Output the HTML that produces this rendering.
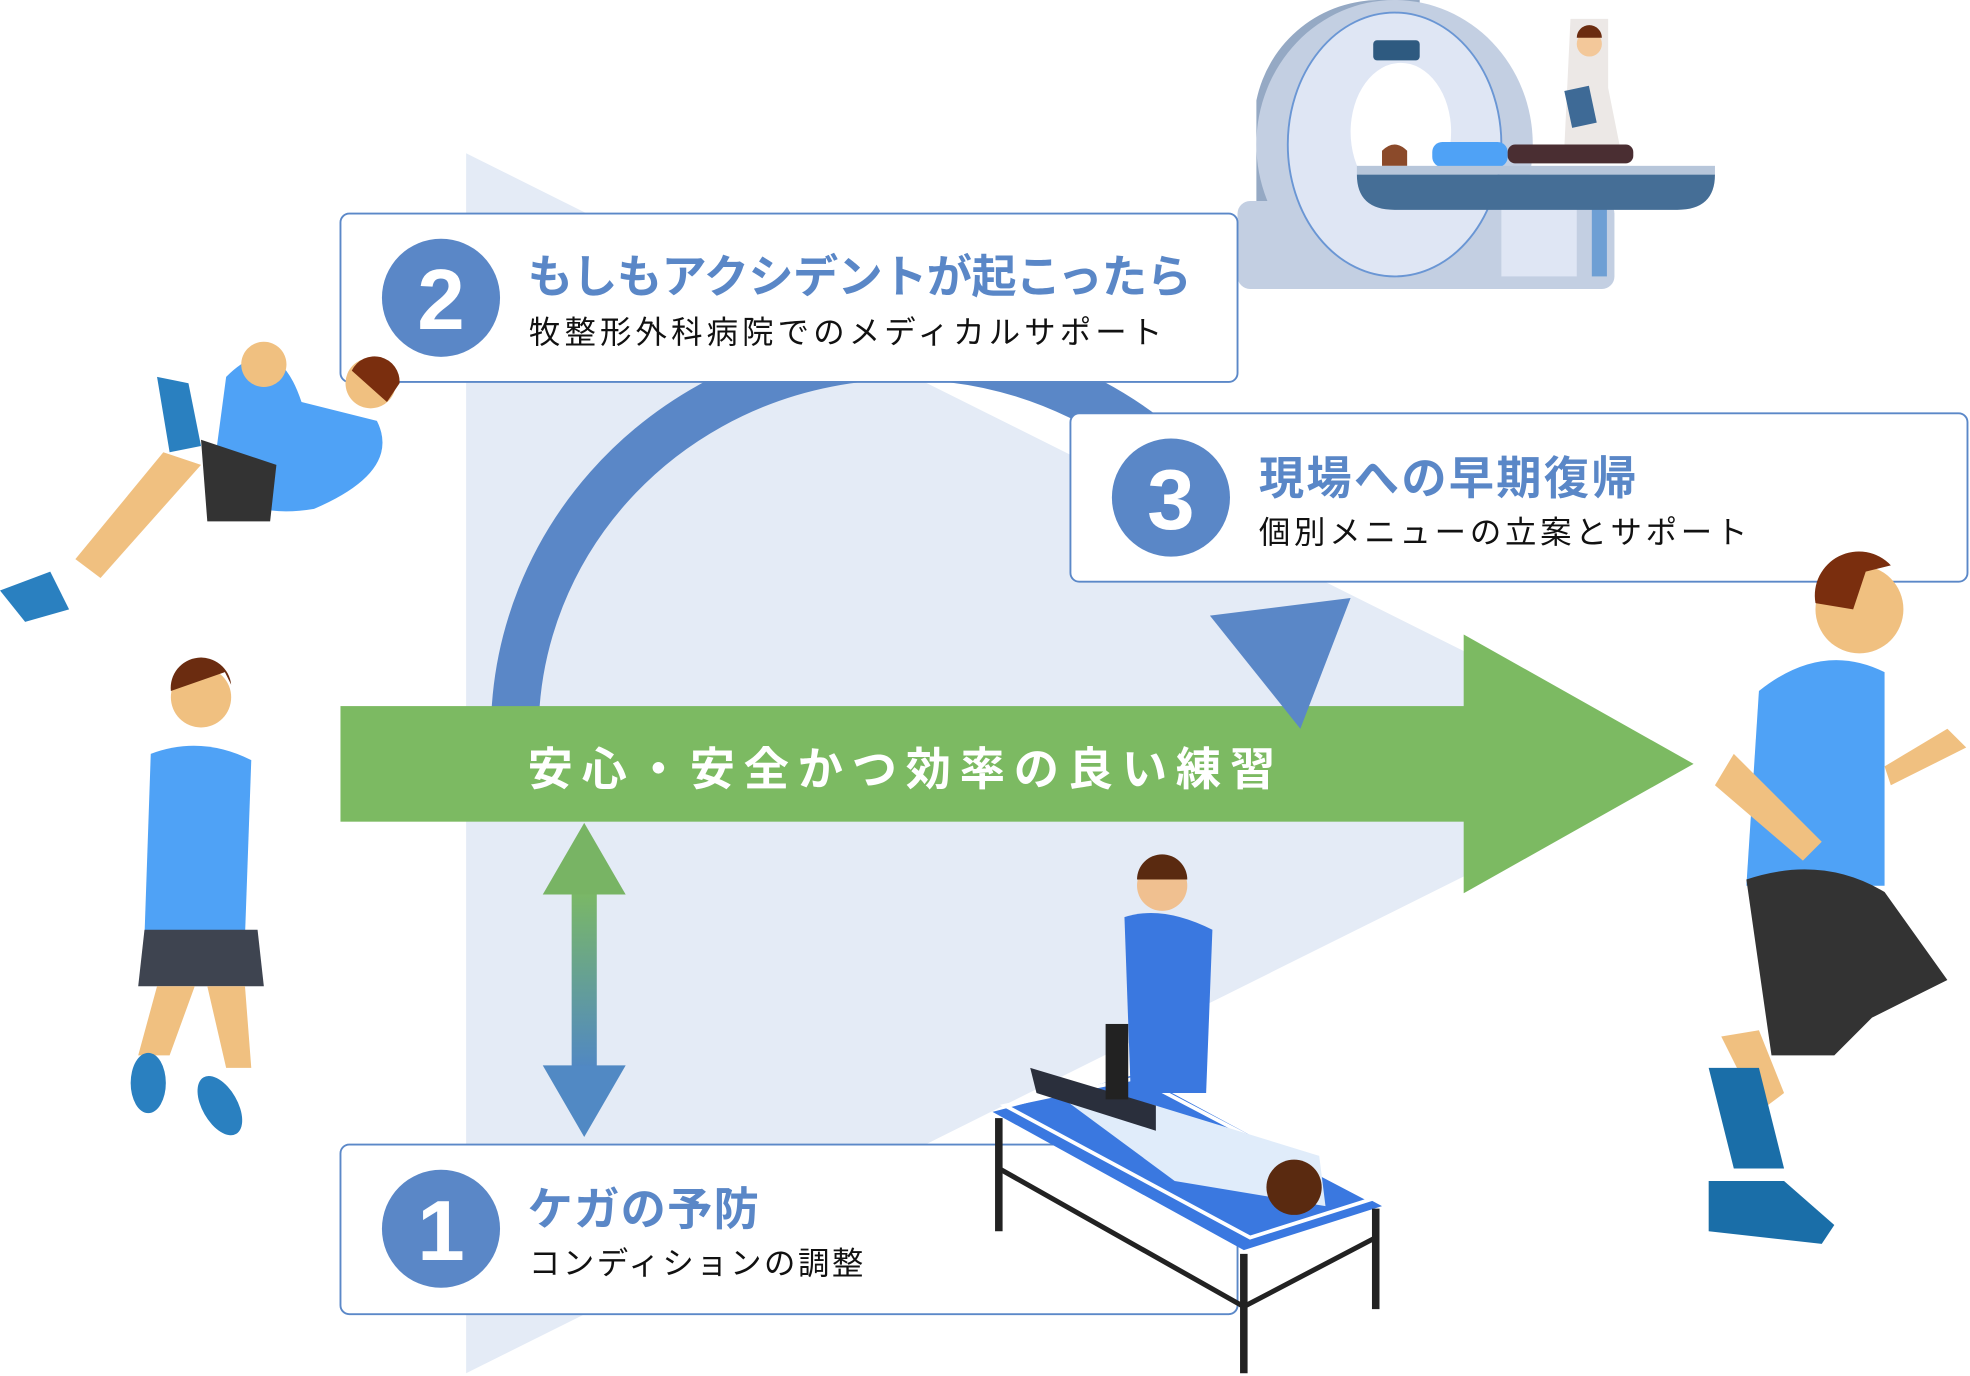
<!DOCTYPE html>
<html><head><meta charset="utf-8"><style>
html,body{margin:0;padding:0;background:#fff;width:1970px;height:1376px;overflow:hidden}
svg{display:block}
text{font-family:"Liberation Sans","Noto Sans CJK JP",sans-serif}
</style></head><body>
<svg width="1970" height="1376" viewBox="0 0 1568 1095.2" xmlns="http://www.w3.org/2000/svg">
<defs>
<linearGradient id="dg" x1="0" y1="0" x2="0" y2="1"><stop offset="0" stop-color="#7cba62"/><stop offset="1" stop-color="#4f86c6"/></linearGradient>
</defs>
<polygon points="371,122 1345,608 371,1093" fill="#e4ebf6"/>
<path d="M410,570 A310,300 0 0 1 1000,455" fill="none" stroke="#5a87c7" stroke-width="38"/>
<rect x="271" y="562" width="895" height="92" fill="#7cba62"/>
<polygon points="1165,505 1348,608 1165,711" fill="#7cba62"/>
<polygon points="963,490 1075,476 1035,580" fill="#5a87c7"/>
<text x="420" y="625" font-size="36" font-weight="bold" fill="#fff" letter-spacing="7">安心・安全かつ効率の良い練習</text>
<rect x="455" y="705" width="20" height="150" fill="url(#dg)"/>
<polygon points="432,712 465,655 498,712" fill="#78b464"/>
<polygon points="432,848 465,905 498,848" fill="#5189c4"/>
<g>
<path d="M1000,230 L1000,80 A100,100 0 0 1 1100,0 L1130,0 L1130,230 Z" fill="#95a9c4"/>
<ellipse cx="1110" cy="115" rx="110" ry="115" fill="#c3cfe2"/>
<rect x="985" y="160" width="300" height="70" rx="10" fill="#c3cfe2"/>
<ellipse cx="1110" cy="115" rx="85" ry="105" fill="#dfe6f4" stroke="#6a96d4" stroke-width="1.5"/>
<ellipse cx="1115" cy="105" rx="40" ry="55" fill="#fff"/>
<rect x="1093" y="32" width="37" height="16" rx="3" fill="#2e5a80"/>
<rect x="1195" y="160" width="60" height="60" fill="#dfe6f4"/>
<path d="M1250,15 h30 v55 l10,50 h-45 z" fill="#ece8e6"/>
<circle cx="1265" cy="35" r="10" fill="#f3c89a"/>
<path d="M1255,30 a10,10 0 0 1 20,0 z" fill="#6b2c10"/>
<rect x="1248" y="70" width="20" height="30" fill="#3e6a96" transform="rotate(-12 1258 85)"/>
<rect x="1267" y="165" width="12" height="55" fill="#6e9fd4"/>
<path d="M1100,120 q10,-10 20,0 l0,12 h-20 z" fill="#8b4a2a"/>
<rect x="1140" y="113" width="60" height="20" rx="8" fill="#4fa2f6"/>
<rect x="1200" y="115" width="100" height="15" rx="6" fill="#4a2e32"/>
<rect x="1080" y="132" width="285" height="7" fill="#b7c6da"/>
<path d="M1080,139 h285 q0,28 -30,28 h-225 q-30,0 -30,-28 z" fill="#456e96"/>
</g>
<rect x="271" y="170" width="714" height="134" rx="7" fill="#fff" stroke="#5b88c8" stroke-width="1.5"/>
<circle cx="351" cy="237" r="47" fill="#5a87c7"/>
<text x="351" y="262" font-size="68" font-weight="bold" fill="#fff" text-anchor="middle">2</text>
<text x="420" y="233" font-size="36" font-weight="bold" fill="#5a87c7" letter-spacing="-0.5">もしもアクシデントが起こったら</text>
<text x="421" y="273" font-size="25" fill="#111" letter-spacing="3.3">牧整形外科病院でのメディカルサポート</text>
<rect x="852" y="329" width="714" height="134" rx="7" fill="#fff" stroke="#5b88c8" stroke-width="1.5"/>
<circle cx="932" cy="396" r="47" fill="#5a87c7"/>
<text x="932" y="421" font-size="68" font-weight="bold" fill="#fff" text-anchor="middle">3</text>
<text x="1002" y="393" font-size="36" font-weight="bold" fill="#5a87c7" letter-spacing="1.8">現場への早期復帰</text>
<text x="1002" y="432" font-size="25" fill="#111" letter-spacing="3">個別メニューの立案とサポート</text>
<rect x="271" y="911" width="714" height="135" rx="7" fill="#fff" stroke="#5b88c8" stroke-width="1.5"/>
<circle cx="351" cy="978" r="47" fill="#5a87c7"/>
<text x="351" y="1003" font-size="68" font-weight="bold" fill="#fff" text-anchor="middle">1</text>
<text x="420" y="975" font-size="36" font-weight="bold" fill="#5a87c7" letter-spacing="1">ケガの予防</text>
<text x="421" y="1014" font-size="25" fill="#111" letter-spacing="2">コンディションの調整</text>
<g>
<polygon points="790,885 905,855 1100,960 990,995" fill="#3a78e0"/>
<polygon points="800,880 905,858 1090,955 995,985" fill="none" stroke="#fff" stroke-width="3"/>
<path d="M795,890 v90 M990,998 v95 M1095,962 v80" stroke="#222" stroke-width="6"/>
<path d="M795,930 L990,1040 L1095,985" stroke="#222" stroke-width="4" fill="none"/>
<path d="M820,855 l100,25 l130,40 l5,40 l-120,-20 z" fill="#e0ecfa"/>
<path d="M820,850 l100,30 v20 l-95,-30 z" fill="#2a2f3c"/>
<circle cx="1030" cy="945" r="22" fill="#5a2a10"/>
<path d="M895,730 q30,-10 70,10 l-5,130 h-60 z" fill="#3a78e0"/>
<circle cx="925" cy="705" r="20" fill="#f0c090"/>
<path d="M905,700 a20,20 0 0 1 40,0 z" fill="#5a2a10"/>
<rect x="880" y="815" width="18" height="60" fill="#222"/>
</g>
<g>
<path d="M180,300 q40,-40 60,20 l60,15 q20,40 -50,70 q-60,10 -80,-30 z" fill="#4fa2f6"/>
<path d="M160,350 l60,20 l-5,45 l-50,0 z" fill="#333"/>
<path d="M130,360 l30,10 l-80,90 l-20,-15 z" fill="#f0c080"/>
<path d="M0,470 l40,-15 l15,30 l-35,10 z" fill="#2a80c0"/>
<path d="M125,300 l25,5 l10,50 l-25,5 z" fill="#2a80c0"/>
<circle cx="295" cy="305" r="20" fill="#f0c080"/>
<path d="M280,295 a20,20 0 0 1 38,10 l-10,15 z" fill="#7a2e0e"/>
<circle cx="210" cy="290" r="18" fill="#f0c080"/>
</g>
<g>
<circle cx="160" cy="555" r="24" fill="#f0c080"/>
<path d="M136,550 a24,24 0 0 1 48,-5 l-5,-10 z" fill="#6b2c10"/>
<path d="M120,600 q40,-15 80,5 l-5,140 h-80 z" fill="#4fa2f6"/>
<path d="M115,740 h90 l5,45 h-100 z" fill="#3e4450"/>
<path d="M125,785 l-15,55 h25 l20,-55 z M165,785 l15,65 h20 l-5,-65 z" fill="#f0c080"/>
<ellipse cx="118" cy="862" rx="14" ry="24" fill="#2a80c0"/>
<ellipse cx="175" cy="880" rx="14" ry="26" fill="#2a80c0" transform="rotate(-30 175 880)"/>
</g>
<g>
<circle cx="1480" cy="485" r="35" fill="#f0c080"/>
<path d="M1445,480 a35,35 0 0 1 60,-30 l-20,5 l-10,30 z" fill="#7a2e0e"/>
<path d="M1400,550 q50,-40 100,-15 l0,170 h-110 z" fill="#4fa2f6"/>
<path d="M1390,700 q60,-20 110,10 l50,70 l-60,30 l-30,30 h-50 z" fill="#333"/>
<path d="M1400,820 l20,50 l-20,15 l-30,-60 z" fill="#f0c080"/>
<path d="M1360,850 l40,0 l20,80 l-40,0 z" fill="#1a6ea8"/>
<path d="M1360,940 l60,0 l40,35 l-10,15 l-90,-10 z" fill="#1a6ea8"/>
<path d="M1500,610 l50,-30 l15,15 l-60,30 z" fill="#f0c080"/>
<path d="M1380,600 l70,70 l-15,15 l-70,-60 z" fill="#f0c080"/>
</g>
</svg>
</body></html>
